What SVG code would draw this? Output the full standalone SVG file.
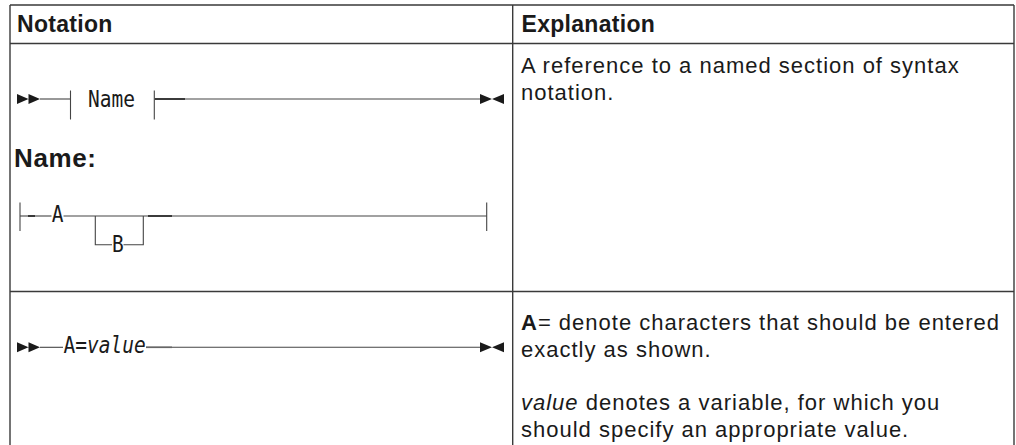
<svg xmlns="http://www.w3.org/2000/svg" width="1016" height="445" viewBox="0 0 1016 445">
<style>
.grid{stroke:#3a3a3a;stroke-width:1.4;fill:none}
.ln{stroke:#444;stroke-width:1.1;fill:none}
.thk{stroke:#222;stroke-width:1.6;fill:none}
.arr{fill:#1a1a1a;stroke:none}
.hd{font-family:"Liberation Sans",Arial,sans-serif;font-weight:bold;font-size:23px;letter-spacing:0.3px;fill:#1a1a1a}
.tx{font-family:"Liberation Sans",Arial,sans-serif;font-size:22px;letter-spacing:1px;fill:#1a1a1a}
.mono{font-family:"DejaVu Sans Mono","Liberation Mono",monospace;font-size:19.5px;fill:#1a1a1a}
.nm{font-family:"Liberation Sans",Arial,sans-serif;font-weight:bold;font-size:26px;letter-spacing:0.6px;fill:#1a1a1a}
</style>
<defs>
<path id="dblR" d="M0,-5 L11.5,0 L0,5 Z M11.5,-5 L23,0 L11.5,5 Z"/>
<path id="endLR" d="M0,-5 L12,0 L0,5 Z M24,-5 L12,0 L24,5 Z"/>
</defs>
<rect width="1016" height="445" fill="#ffffff"/>
<g id="table">
<path class="grid" d="M10,5 H1014 M10,43.5 H1014 M10,291.5 H1014 M10,5 V445 M512.7,5 V445 M1014,5 V445"/>
</g>
<g id="header">
<text class="hd" x="17" y="32">Notation</text>
<text class="hd" x="521.5" y="32">Explanation</text>
</g>
<g id="connectors">
<line class="ln" x1="40" y1="99" x2="70.5" y2="99"/>
<line class="ln" x1="70.5" y1="90.5" x2="70.5" y2="119.5"/>
<line class="ln" x1="154.3" y1="90.5" x2="154.3" y2="119.5"/>
<line class="ln" x1="154.3" y1="99" x2="480" y2="99"/>
<line class="thk" x1="155" y1="99" x2="185" y2="99"/>
<line class="ln" x1="20" y1="202.5" x2="20" y2="231"/>
<line class="ln" x1="486.7" y1="202.5" x2="486.7" y2="231"/>
<line class="ln" x1="20" y1="216" x2="51.5" y2="216"/>
<line class="ln" x1="63.5" y1="216" x2="486.7" y2="216"/>
<line class="thk" x1="28" y1="216" x2="35" y2="216"/>
<line class="thk" x1="148" y1="216" x2="172" y2="216"/>
<path class="ln" d="M95.3,216 V244.7 H112 M123.5,244.7 H143.3 V216"/>
<line class="ln" x1="40" y1="347.3" x2="63" y2="347.3"/>
<line class="ln" x1="146" y1="347.3" x2="480" y2="347.3"/>
<line class="thk" x1="146" y1="347.3" x2="172" y2="347.3" style="stroke:#666"/>
<use href="#dblR" class="arr" x="17" y="99"/>
<use href="#endLR" class="arr" x="480" y="99"/>
<use href="#dblR" class="arr" x="17" y="347.3"/>
<use href="#endLR" class="arr" x="480" y="347.3"/>
</g>
<g id="node-name-ref">
<text class="mono" transform="translate(88,106.5) scale(1,1.15)">Name</text>
</g>
<g id="node-name-title">
<text class="nm" x="14" y="167">Name:</text>
</g>
<g id="node-A">
<text class="mono" transform="translate(51.8,221.7) scale(1,1.15)">A</text>
</g>
<g id="node-B">
<text class="mono" transform="translate(112,251.7) scale(1,1.15)">B</text>
</g>
<g id="node-A-value">
<text class="mono" transform="translate(63.5,353.3) scale(1,1.15)">A=<tspan font-style="italic">value</tspan></text>
</g>
<g id="explain-1">
<text class="tx" x="521" y="73">A reference to a named section of syntax</text>
<text class="tx" x="521" y="100">notation.</text>
</g>
<g id="explain-2">
<text class="tx" x="521" y="330"><tspan font-weight="bold">A</tspan>= denote characters that should be entered</text>
<text class="tx" x="521" y="357">exactly as shown.</text>
<text class="tx" x="521" y="410"><tspan font-style="italic">value</tspan> denotes a variable, for which you</text>
<text class="tx" x="521" y="437">should specify an appropriate value.</text>
</g>
</svg>
